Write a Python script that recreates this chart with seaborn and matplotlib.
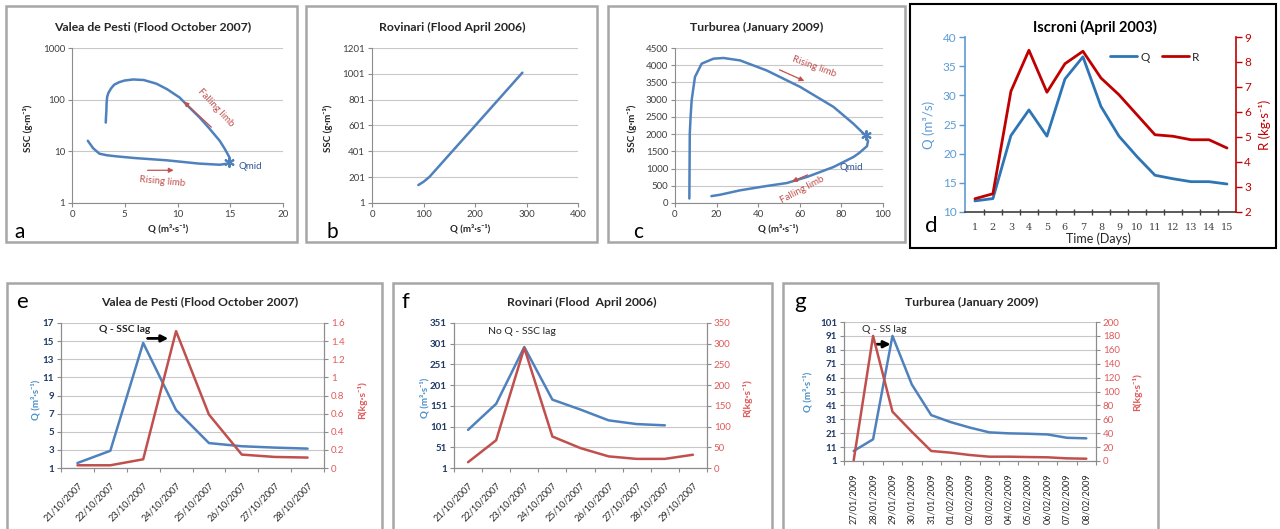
import numpy as np
import pandas as pd
import matplotlib
matplotlib.use("Agg")
import matplotlib.pyplot as plt
import seaborn as sns
from matplotlib.patches import Rectangle
from matplotlib.ticker import NullLocator

# ------------------------------------------------------------------ data
# (a) Valea de Pesti hysteresis loop: Q (m3/s) vs SSC (g/m3), log scale
a_q = [1.5, 2.0, 2.6, 3.3, 4.2, 6.0, 9.0, 12.0, 14.0, 14.8, 15.0, 14.9, 14.5, 14.0,
       13.0, 12.1, 11.0, 10.2, 9.0, 8.0, 6.8, 5.8, 5.0, 4.5, 4.0, 3.7, 3.45, 3.33,
       3.28, 3.26, 3.22, 3.2]
a_ssc = [16, 11.5, 9.0, 8.4, 8.0, 7.4, 6.7, 5.8, 5.5, 5.8, 6.5, 7.8, 11, 16,
         28, 45, 75, 110, 160, 204, 240, 246, 235, 219, 195, 165, 135, 113,
         85, 62, 45, 36]
a_qmid = [14.9]
a_qmid_ssc = [6.2]

# (b) Rovinari: Q vs SSC
b_q = [90, 100, 112, 150, 200, 250, 292]
b_ssc = [140, 165, 205, 375, 598, 822, 1010]

# (c) Turburea hysteresis loop: Q vs SSC
c_q = [6.9, 7.0, 7.1, 7.5, 8.0, 9.6, 12.8, 18.5, 23.3, 31.3, 44.0, 60.2, 76.2,
       85.8, 91.5, 92.8, 92.3, 88.5, 85.8, 76.2, 63.4, 53.8, 44.1, 31.3, 21.7, 17.5]
c_ssc = [130, 1000, 2013, 2500, 2980, 3660, 4045, 4190, 4210, 4140, 3850, 3370, 2790,
         2300, 1965, 1800, 1650, 1450, 1336, 1045, 755, 580, 494, 368, 240, 200]
c_qmid = [92.0]
c_qmid_ssc = [1960]

# (d) Iscroni April 2003
d_days = list(range(1, 16))
d_q = [11.9, 12.3, 23.1, 27.5, 23.0, 32.8, 36.6, 28.1, 23.0, 19.5, 16.3, 15.7, 15.2, 15.2, 14.8]
d_r = [2.53, 2.73, 6.83, 8.47, 6.79, 7.93, 8.43, 7.36, 6.69, 5.89, 5.09, 5.03, 4.89, 4.89, 4.56]

# (e) Valea de Pesti time series
e_dates = ["21/10/2007", "22/10/2007", "23/10/2007", "24/10/2007",
           "25/10/2007", "26/10/2007", "27/10/2007", "28/10/2007"]
e_q = [1.55, 2.9, 14.8, 7.4, 3.75, 3.4, 3.25, 3.14]
e_r = [0.03, 0.03, 0.096, 1.51, 0.59, 0.148, 0.122, 0.115]

# (f) Rovinari time series
f_dates = ["21/10/2007", "22/10/2007", "23/10/2007", "24/10/2007", "25/10/2007",
           "26/10/2007", "27/10/2007", "28/10/2007", "29/10/2007"]
f_q = [93, 156, 293, 166, 142, 116, 107, 104]
f_r = [14, 67, 290, 76, 48, 28, 22, 22, 32]

# (g) Turburea time series
g_dates = ["27/01/2009", "28/01/2009", "29/01/2009", "30/01/2009", "31/01/2009",
           "01/02/2009", "02/02/2009", "03/02/2009", "04/02/2009", "05/02/2009",
           "06/02/2009", "07/02/2009", "08/02/2009"]
g_q = [8.2, 16.6, 91, 56, 34, 29, 25, 21.6, 20.9, 20.6, 20.1, 17.7, 17.3]
g_r = [1, 180, 71, 42, 14.4, 12, 8.6, 6.2, 6.2, 5.7, 5.3, 3.8, 3.3]

# ------------------------------------------------------------------ style
sns.set_theme(style="white")
plt.rcParams["font.family"] = ["Lato", "DejaVu Sans"]

BLUE = "#4f81bd"
RED = "#c0504d"
NAVY = "#1f3864"
QLAB = "#4a90c8"
RLAB = "#e05a5a"
GRID = "#c8c8c8"
AXC = "#8c8c8c"

W, H = 1280, 529
fig = plt.figure(figsize=(12.8, 5.29), dpi=100)
fig.patch.set_facecolor("white")


def px_axes(x0, y0, x1, y1):
    return fig.add_axes([x0 / W, 1 - y1 / H, (x1 - x0) / W, (y1 - y0) / H])


def ftext(x, y, s, **kw):
    kw.setdefault("ha", "center")
    kw.setdefault("va", "center")
    fig.text(x / W, 1 - y / H, s, **kw)


def box(x0, y0, x1, y1, color="#a6a6a6", lw=1.8):
    fig.add_artist(Rectangle((x0 / W, 1 - y1 / H), (x1 - x0) / W, (y1 - y0) / H,
                             transform=fig.transFigure, fill=False,
                             edgecolor=color, linewidth=lw))


def excel_style(ax):
    for s in ["top", "right"]:
        ax.spines[s].set_visible(False)
    for s in ["left", "bottom"]:
        ax.spines[s].set_color(AXC)
        ax.spines[s].set_linewidth(0.8)
    ax.tick_params(length=3, width=0.8, color=AXC, labelsize=7,
                   labelcolor="#404040", pad=2, left=True, bottom=True)
    ax.yaxis.grid(True, color=GRID, lw=0.8)
    ax.xaxis.grid(False)
    ax.set_axisbelow(True)
    ax.set_xlabel("")
    ax.set_ylabel("")


# ------------------------------------------------------------------ boxes
box(6, 6, 297, 242)
box(306, 6, 597, 242)
box(608, 6, 905, 242)
box(910, 4, 1276, 248, color="black", lw=1.5)
box(7, 283, 382, 535)
box(393, 283, 772, 535)
box(783, 283, 1158, 535)

TSZ = 8.8
LSZ = 7

# ------------------------------------------------------------------ (a)
ax = px_axes(72, 48, 283, 203)
sns.lineplot(x=a_q, y=a_ssc, sort=False, estimator=None, ax=ax, color=BLUE, lw=1.8)
sns.scatterplot(x=a_qmid, y=a_qmid_ssc, ax=ax, marker=(6, 2, 0), s=40,
                color=BLUE, linewidth=1.5, edgecolor=BLUE)
ax.set_yscale("log")
ax.set_ylim(1, 1000)
ax.set_xlim(0, 20)
ax.set_yticks([1, 10, 100, 1000])
ax.set_yticklabels(["1", "10", "100", "1000"])
ax.yaxis.set_minor_locator(NullLocator())
ax.set_xticks([0, 5, 10, 15, 20])
excel_style(ax)
ax.annotate("", xy=(10.4, 100), xytext=(13.4, 27),
            arrowprops=dict(arrowstyle="-|>", color=RED, lw=0.9, mutation_scale=7))
ax.text(13.6, 70, "Falling limb", color=RED, rotation=-47, fontsize=7,
        ha="center", va="center")
ax.annotate("", xy=(9.9, 4.3), xytext=(6.9, 4.3),
            arrowprops=dict(arrowstyle="-|>", color=RED, lw=0.9, mutation_scale=7))
ax.text(8.6, 2.6, "Rising limb", color=RED, rotation=-5, fontsize=7,
        ha="center", va="center")
ax.text(15.8, 5.0, "Qmid", color="#2f5597", fontsize=7, ha="left", va="center")
ftext(153, 27, "Valea de Pesti (Flood October 2007)", fontsize=TSZ, fontweight="bold",
      color="#262626")
ftext(28, 128, "SSC (g·m⁻³)", rotation=90, fontsize=LSZ, fontweight="bold", color="#262626")
ftext(168, 229, "Q (m³·s⁻¹)", fontsize=LSZ, fontweight="bold", color="#262626")
ftext(20, 232, "a", fontsize=15, color="black")

# ------------------------------------------------------------------ (b)
ax = px_axes(372, 48, 578, 203)
sns.lineplot(x=b_q, y=b_ssc, sort=False, estimator=None, ax=ax, color=BLUE, lw=1.8)
ax.set_ylim(1, 1201)
ax.set_yticks(np.arange(1, 1202, 200))
ax.set_xlim(0, 400)
ax.set_xticks([0, 100, 200, 300, 400])
excel_style(ax)
ftext(452, 27, "Rovinari (Flood April 2006)", fontsize=TSZ, fontweight="bold", color="#262626")
ftext(328, 128, "SSC (g·m⁻³)", rotation=90, fontsize=LSZ, fontweight="bold", color="#262626")
ftext(470, 229, "Q (m³·s⁻¹)", fontsize=LSZ, fontweight="bold", color="#262626")
ftext(332, 232, "b", fontsize=15, color="black")

# ------------------------------------------------------------------ (c)
ax = px_axes(675, 48, 883, 203)
sns.lineplot(x=c_q, y=c_ssc, sort=False, estimator=None, ax=ax, color=BLUE, lw=1.8)
sns.scatterplot(x=c_qmid, y=c_qmid_ssc, ax=ax, marker=(6, 2, 0), s=40,
                color=BLUE, linewidth=1.5, edgecolor=BLUE)
ax.set_ylim(0, 4500)
ax.set_yticks(np.arange(0, 4501, 500))
ax.set_xlim(0, 100)
ax.set_xticks(np.arange(0, 101, 20))
excel_style(ax)
ax.annotate("", xy=(63.4, 3510), xytext=(49, 3900),
            arrowprops=dict(arrowstyle="-|>", color=RED, lw=0.9, mutation_scale=7))
ax.text(67, 3960, "Rising limb", color=RED, rotation=-20, fontsize=7,
        ha="center", va="center")
ax.annotate("", xy=(55, 590), xytext=(65, 850),
            arrowprops=dict(arrowstyle="-|>", color=RED, lw=0.9, mutation_scale=7))
ax.text(61, 380, "Falling limb", color=RED, rotation=28, fontsize=7,
        ha="center", va="center")
ax.text(79, 1020, "Qmid", color="#2f5597", fontsize=7, ha="left", va="center")
ftext(757, 27, "Turburea (January 2009)", fontsize=TSZ, fontweight="bold", color="#262626")
ftext(632, 128, "SSC (g·m⁻³)", rotation=90, fontsize=LSZ, fontweight="bold", color="#262626")
ftext(778, 229, "Q (m³·s⁻¹)", fontsize=LSZ, fontweight="bold", color="#262626")
ftext(638, 232, "c", fontsize=15, color="black")

# ------------------------------------------------------------------ (d)
DQ = "#2e75b6"
DR = "#c00000"
DQL = "#5b9bd5"
ax = px_axes(965, 37, 1236, 212)
ax2 = ax.twinx()
sns.lineplot(x=d_days, y=d_q, ax=ax, color=DQ, lw=2.0, label="Q")
sns.lineplot(x=d_days, y=d_r, ax=ax2, color=DR, lw=2.0, label="R")
for a_ in (ax, ax2):
    if a_.get_legend() is not None:
        a_.get_legend().remove()
ax.set_xlim(0.45, 15.5)
ax.set_ylim(10, 40)
ax2.set_ylim(2, 9)
ax.set_xticks(d_days)
ax.set_xticks(np.arange(1.5, 15.5, 1), minor=True)
ax.set_yticks(np.arange(10, 41, 5))
ax2.set_yticks(np.arange(2, 10, 1))
ax.set_xlabel("")
ax.set_ylabel("")
ax2.set_ylabel("")
for a_ in (ax, ax2):
    a_.grid(False)
    a_.spines["top"].set_visible(False)
ax.spines["left"].set_color(DQL)
ax.spines["left"].set_linewidth(1.2)
ax.spines["right"].set_visible(False)
ax.spines["bottom"].set_color("#404040")
ax.spines["bottom"].set_linewidth(1.2)
ax2.spines["left"].set_visible(False)
ax2.spines["bottom"].set_visible(False)
ax2.spines["right"].set_color(DR)
ax2.spines["right"].set_linewidth(1.2)
ax.tick_params(axis="y", left=True, length=4, width=1, color=DQL, labelcolor=DQL,
               labelsize=8.5, pad=2)
ax.tick_params(axis="x", which="major", bottom=False, labelsize=7,
               labelcolor="#404040", pad=2, labelfontfamily="DejaVu Serif")
ax.tick_params(axis="x", which="minor", bottom=True, length=4, width=1, color="#404040",
               direction="inout")
ax2.tick_params(axis="y", right=True, length=4, width=1, color=DR, labelcolor=DR,
                labelsize=8.5, pad=2)
h1, l1 = ax.get_legend_handles_labels()
h2, l2 = ax2.get_legend_handles_labels()
ax2.legend(h1 + h2, ["Q", "R"], loc="center", bbox_to_anchor=(0.70, 0.885), ncol=2,
           frameon=False, fontsize=8.5, handlelength=2.3, columnspacing=1.0,
           handletextpad=0.3)
ftext(1095, 27, "Iscroni (April 2003)", fontsize=10.5, fontweight="bold", color="black")
ftext(929, 125, "Q (m³/s)", rotation=90, fontsize=9.5, color=DQL)
ftext(1265, 125, "R (kg·s⁻¹)", rotation=90, fontsize=9.5, color=DR)
ftext(1098, 239, "Time (Days)", fontsize=9, color="#262626")
ftext(931, 226, "d", fontsize=16, color="black")


# ------------------------------------------------------------------ (e)(f)(g)
def twin_series(box_px, dates, q, r, qlim, qticks, rlim, rticks, rot, title, tpos,
                letter, lpos, qlab_pos, rlab_pos, rlabels=None):
    ax = px_axes(*box_px)
    ax2 = ax.twinx()
    sns.lineplot(x=np.arange(len(q)), y=q, ax=ax, color=BLUE, lw=1.8)
    sns.lineplot(x=np.arange(len(r)), y=r, ax=ax2, color=RED, lw=1.8)
    ax.set_xlim(-0.5, len(dates) - 0.5)
    ax.set_ylim(*qlim)
    ax2.set_ylim(*rlim)
    ax.set_yticks(qticks)
    ax2.set_yticks(rticks)
    if rlabels is not None:
        ax2.set_yticklabels(rlabels)
    ax.set_xticks(np.arange(len(dates)))
    if rot == 45:
        ax.set_xticklabels(dates, rotation=45, ha="right", rotation_mode="anchor")
    else:
        ax.set_xticklabels(dates, rotation=90, ha="center", va="top")
    ax.set_xticks(np.arange(-0.5, len(dates), 1), minor=True)
    for a_ in (ax, ax2):
        a_.set_xlabel("")
        a_.set_ylabel("")
        a_.spines["top"].set_visible(False)
        for s in ["left", "right", "bottom"]:
            a_.spines[s].set_color(AXC)
            a_.spines[s].set_linewidth(0.8)
    ax.yaxis.grid(True, color=GRID, lw=0.8)
    ax.xaxis.grid(False)
    ax2.grid(False)
    ax.set_axisbelow(True)
    ax.tick_params(axis="y", left=True, length=3, width=0.8, color=AXC, labelsize=7,
                   labelcolor=NAVY, pad=2)
    for t in ax.get_yticklabels():
        t.set_fontweight("bold")
    ax2.tick_params(axis="y", right=True, length=3, width=0.8, color=AXC, labelsize=7,
                    labelcolor=RLAB, pad=2)
    ax.tick_params(axis="x", which="major", bottom=False, labelsize=6.6,
                   labelcolor="#262626", pad=3)
    ax.tick_params(axis="x", which="minor", bottom=True, length=3, width=0.8, color=AXC)
    ftext(tpos[0], tpos[1], title, fontsize=TSZ, fontweight="bold", color="#262626")
    ftext(lpos[0], lpos[1], letter, fontsize=16, color="black")
    ftext(qlab_pos[0], qlab_pos[1], "Q (m³·s⁻¹)", rotation=90, fontsize=7,
          fontweight="bold", color=QLAB)
    ftext(rlab_pos[0], rlab_pos[1], "R(kg·s⁻¹)", rotation=90, fontsize=7.5,
          fontweight="bold", color=RLAB)
    return ax, ax2


# (e)
ax, ax2 = twin_series((61, 323, 324, 468), e_dates, e_q, e_r, (1, 17), np.arange(1, 18, 2),
                      (0, 1.6), np.arange(0, 1.61, 0.2), 45,
                      "Valea de Pesti (Flood October 2007)", (200, 302), "e", (22, 302),
                      (36, 400), (362, 400),
                      rlabels=["0", "0.2", "0.4", "0.6", "0.8", "1", "1.2", "1.4", "1.6"])
ax.annotate("", xy=(2.85, 15.3), xytext=(2.05, 15.3),
            arrowprops=dict(arrowstyle="-|>", color="black", lw=2.0, mutation_scale=10))
ax.text(1.45, 16.3, "Q - SSC lag", fontsize=7.5, color="#262626", ha="center", va="center",
        fontweight="bold")

# (f)
ax, ax2 = twin_series((454, 323, 707, 468), f_dates, f_q, f_r, (1, 351), np.arange(1, 352, 50),
                      (0, 350), np.arange(0, 351, 50), 45,
                      "Rovinari (Flood  April 2006)", (582, 302), "f", (405, 302),
                      (425, 398), (747, 398))
ax.text(1.9, 330, "No Q - SSC lag", fontsize=7.5, color="#262626", ha="center", va="center")

# (g)
ax, ax2 = twin_series((844, 322, 1096, 461), g_dates, g_q, g_r, (1, 101), np.arange(1, 102, 10),
                      (0, 200), np.arange(0, 201, 20), 90,
                      "Turburea (January 2009)", (972, 302), "g", (800, 302),
                      (808, 392), (1137, 392))
ax.annotate("", xy=(2.05, 85), xytext=(1.05, 85),
            arrowprops=dict(arrowstyle="-|>", color="black", lw=2.0, mutation_scale=10))
ax.text(1.6, 95.5, "Q - SS lag", fontsize=7.5, color="#262626", ha="center", va="center")

fig.savefig("out.png", dpi=100, facecolor="white")
